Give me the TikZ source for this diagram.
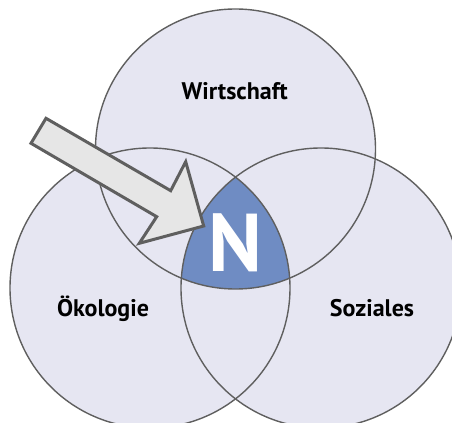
\documentclass[tikz,border=0pt]{standalone}
\usepackage{fontspec}
\setmainfont{PT Sans}
\usetikzlibrary{positioning}
\definecolor{kreis}{HTML}{E6E6F2}
\definecolor{rand}{HTML}{5F5F5F}
\definecolor{kern}{HTML}{6F8CC3}
\definecolor{pfeil}{HTML}{E6E6E6}

\begin{document}
\begin{tikzpicture} [
    x=0.5pt, y=-0.5pt,
    kreisrand/.style = { draw=rand, line width=0.7pt },
    titel/.style     = { font=\fontsize{12}{14}\selectfont\bfseries,
                         inner sep=0pt, anchor=base },
    kerntext/.style  = { font=\fontsize{41}{44}\selectfont\bfseries,
                         text=white, inner sep=0pt, anchor=base },
  ]
  \useasboundingbox (0,0) rectangle (452,423);
  % centres of the three circles
  \coordinate (wirt) at (235.5,149);
  \coordinate (oeko) at (150,288);
  \coordinate (sozi) at (321,288);

  % fill circles
  \foreach \c in {wirt,oeko,sozi}
    \fill[kreis] (\c) circle [radius=70pt];

  % common region
  \begin{scope}
    \clip (wirt) circle [radius=70pt];
    \clip (oeko) circle [radius=70pt];
    \fill[kern] (sozi) circle [radius=70pt];
  \end{scope}

  \foreach \c in {wirt,oeko,sozi}
    \draw[kreisrand] (\c) circle [radius=70pt];

  % the arrow
  \draw[rand, fill=pfeil, line width=1.5pt, line join=miter]
    (46,118.3) -- (170.7,190.7) -- (185.7,161.7) -- (203.7,226)
    -- (139.3,243.3) -- (156.7,216.7) -- (31,143.3) -- cycle;

  % texts
  \node (twirt) [titel] at (234.7,99.3) {Wirtschaft};
  \node (toeko) [titel] at (103,316.7) {Ökologie};
  \node (tsozi) [titel] at (372,316.7) {Soziales};
  \node (tkern) [kerntext] at (235.8,271.7) {N};
\end{tikzpicture}
\end{document}
